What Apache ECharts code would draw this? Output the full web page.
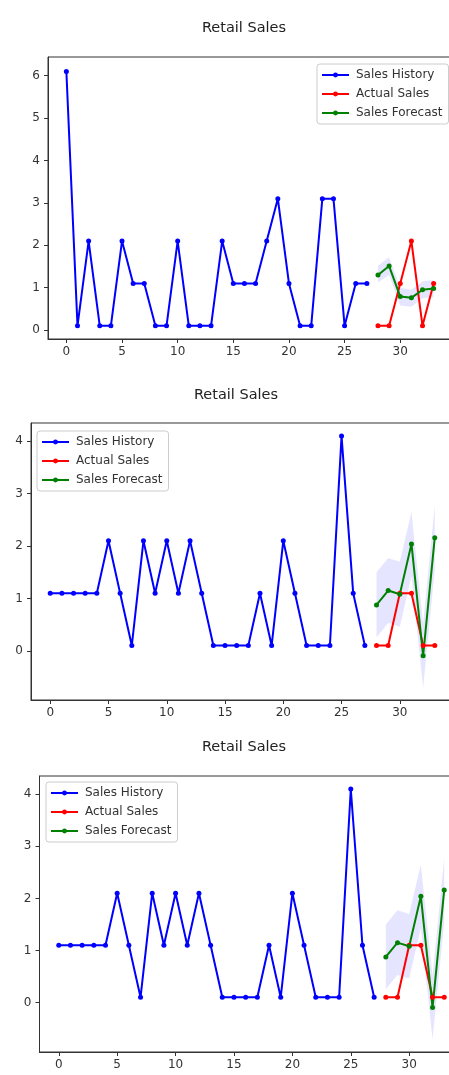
<!DOCTYPE html>
<html>
<head>
<meta charset="utf-8">
<script src="https://cdn.jsdelivr.net/npm/echarts@6/dist/echarts.min.js"></script>
<style>
  html, body { margin: 0; padding: 0; background: #fff; }
  #chart { width: 449px; height: 1075px; }
</style>
</head>
<body>
<div id="chart"></div>
<script>
// ---- data ----
const seriesNames = ['Sales History', 'Actual Sales', 'Sales Forecast'];
const titleText = 'Retail Sales';
const xTickValues = [0, 5, 10, 15, 20, 25, 30];

// first panel
const history1 = [6.1, 0.1, 2.1, 0.1, 0.1, 2.1, 1.1, 1.1, 0.1, 0.1, 2.1, 0.1, 0.1, 0.1,
                  2.1, 1.1, 1.1, 1.1, 2.1, 3.1, 1.1, 0.1, 0.1, 3.1, 3.1, 0.1, 1.1, 1.1];
const actual1 = [0.1, 0.1, 1.1, 2.1, 0.1, 1.1];
const forecast1 = [1.30, 1.51, 0.79, 0.76, 0.95, 0.98];
const lower1 = [1.12, 1.30, 0.58, 0.55, 0.75, 0.78];
const upper1 = [1.52, 1.72, 1.00, 0.95, 1.15, 1.18];
const yTicks1 = [0, 1, 2, 3, 4, 5, 6];

// second panel
const history2 = [1.1, 1.1, 1.1, 1.1, 1.1, 2.1, 1.1, 0.1, 2.1, 1.1, 2.1, 1.1, 2.1, 1.1,
                  0.1, 0.1, 0.1, 0.1, 1.1, 0.1, 2.1, 1.1, 0.1, 0.1, 0.1, 4.1, 1.1, 0.1];
const actual2 = [0.1, 0.1, 1.1, 1.1, 0.1, 0.1];
const forecast2 = [0.875, 1.15, 1.08, 2.04, -0.095, 2.16];
const lower2 = [0.26, 0.53, 0.46, 1.43, -0.71, 1.55];
const upper2 = [1.50, 1.77, 1.70, 2.65, 0.52, 2.78];
const yTicks2 = [0, 1, 2, 3, 4];

// third panel
const history3 = [1.1, 1.1, 1.1, 1.1, 1.1, 2.1, 1.1, 0.1, 2.1, 1.1, 2.1, 1.1, 2.1, 1.1,
                  0.1, 0.1, 0.1, 0.1, 1.1, 0.1, 2.1, 1.1, 0.1, 0.1, 0.1, 4.1, 1.1, 0.1];
const actual3 = [0.1, 0.1, 1.1, 1.1, 0.1, 0.1];
const forecast3 = [0.875, 1.15, 1.08, 2.04, -0.095, 2.16];
const lower3 = [0.26, 0.53, 0.46, 1.43, -0.71, 1.55];
const upper3 = [1.50, 1.77, 1.70, 2.65, 0.52, 2.78];
const yTicks3 = [0, 1, 2, 3, 4];

// ---- layout & styling ----
const colors = { history: '#0000ff', actual: '#ff0000', forecast: '#008000' };
const FONT = 'DejaVu Sans, sans-serif';
const TEXT = '#333';

const panels = [
  { history: history1, actual: actual1, forecast: forecast1, lower: lower1, upper: upper1, yTicks: yTicks1,
    grid: { left: 48, top: 57, width: 404, height: 282 }, yMin: -0.21, yMax: 6.44,
    title: [244, 28], legend: { left: 317, top: 64 } },
  { history: history2, actual: actual2, forecast: forecast2, lower: lower2, upper: upper2, yTicks: yTicks2,
    grid: { left: 31, top: 423, width: 423, height: 277 }, yMin: -0.94, yMax: 4.35,
    title: [236, 395], legend: { left: 37, top: 431 } },
  { history: history3, actual: actual3, forecast: forecast3, lower: lower3, upper: upper3, yTicks: yTicks3,
    grid: { left: 39.5, top: 776, width: 424, height: 276 }, yMin: -0.95, yMax: 4.35,
    title: [244, 747], legend: { left: 46, top: 782 } }
];

const grids = [], xAxes = [], yAxes = [], legends = [], series = [], graphics = [];

function toPairs(values, start) {
  return values.map((v, i) => [start + i, v]);
}

function lineSeries(name, idx, data, color) {
  return {
    type: 'line', name, xAxisIndex: idx, yAxisIndex: idx, data,
    symbol: 'circle', symbolSize: 5, showSymbol: true,
    lineStyle: { width: 2, color }, itemStyle: { color },
    emphasis: { disabled: true }, z: 3, animation: false
  };
}

panels.forEach((p, idx) => {
  const n = p.history.length;
  const fx = p.forecast.map((_, i) => n + i);

  grids.push(Object.assign({
    show: true, borderColor: '#333', borderWidth: 1, backgroundColor: 'transparent',
    containLabel: false, outerBoundsMode: 'none'
  }, p.grid));

  xAxes.push({
    type: 'value', gridIndex: idx, min: -1.65, max: 34.65, position: 'bottom',
    axisLine: { show: true, onZero: false, lineStyle: { color: '#333', width: 1 } },
    splitLine: { show: false },
    axisTick: { show: true, length: 4, inside: false, lineStyle: { color: '#333' }, customValues: xTickValues },
    axisLabel: { margin: 7, color: TEXT, fontSize: 12, fontFamily: FONT, customValues: xTickValues }
  });
  yAxes.push({
    type: 'value', gridIndex: idx, min: p.yMin, max: p.yMax, position: 'left',
    axisLine: { show: true, onZero: false, lineStyle: { color: '#333', width: 1 } },
    splitLine: { show: false },
    axisTick: { show: true, length: 4, inside: false, lineStyle: { color: '#333' }, customValues: p.yTicks },
    axisLabel: { margin: 8, color: TEXT, fontSize: 12, fontFamily: FONT, customValues: p.yTicks }
  });

  legends.push({
    data: seriesNames, orient: 'vertical',
    left: p.legend.left, top: p.legend.top,
    itemWidth: 27, itemHeight: 6, itemGap: 7,
    padding: [5, 6, 5, 4],
    backgroundColor: 'rgba(255,255,255,0.8)', borderColor: '#cccccc', borderWidth: 1, borderRadius: 3,
    textStyle: { color: TEXT, fontSize: 12, fontFamily: FONT, padding: [0, 0, 0, 2] },
    selectedMode: false
  });

  // confidence band of the forecast
  series.push({
    type: 'custom', xAxisIndex: idx, yAxisIndex: idx, silent: true, z: 1, animation: false,
    data: fx.map((x, i) => [x, p.lower[i], p.upper[i]]),
    encode: { x: 0, y: [1, 2] },
    renderItem(params, api) {
      if (params.dataIndex !== 0) return;
      const pts = [];
      for (let i = 0; i < fx.length; i++) pts.push(api.coord([fx[i], p.upper[i]]));
      for (let i = fx.length - 1; i >= 0; i--) pts.push(api.coord([fx[i], p.lower[i]]));
      return { type: 'polygon', shape: { points: pts }, style: { fill: 'rgba(0,0,255,0.1)' } };
    }
  });

  series.push(lineSeries(seriesNames[0], idx, toPairs(p.history, 0), colors.history));
  series.push(lineSeries(seriesNames[1], idx, toPairs(p.actual, n), colors.actual));
  series.push(lineSeries(seriesNames[2], idx, toPairs(p.forecast, n), colors.forecast));

  graphics.push({
    type: 'text', x: p.title[0], y: p.title[1], silent: true,
    style: { text: titleText, fontSize: 14.5, fontFamily: FONT, fill: '#222',
             align: 'center', verticalAlign: 'middle' }
  });
});

const chart = echarts.init(document.getElementById('chart'), null, { renderer: 'canvas' });
chart.setOption({
  animation: false,
  backgroundColor: '#fff',
  grid: grids, xAxis: xAxes, yAxis: yAxes,
  legend: legends, series, graphic: graphics
});
</script>
</body>
</html>
